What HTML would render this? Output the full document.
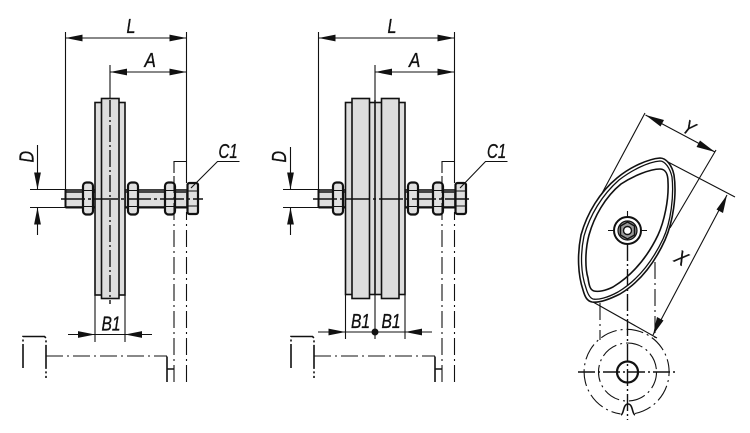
<!DOCTYPE html>
<html><head><meta charset="utf-8"><style>
html,body{margin:0;padding:0;background:#fff}
svg{display:block}
text{font-family:"Liberation Sans",sans-serif;font-style:italic;font-size:20px;fill:#111;stroke:#111;stroke-width:.35}
.t{fill:none;stroke:#111;stroke-width:1.1}
.m{fill:none;stroke:#111;stroke-width:1.6}
.k{fill:none;stroke:#111;stroke-width:2}
.c{fill:none;stroke:#111;stroke-width:1.1;stroke-dasharray:17 4 2 4}
.cm{fill:none;stroke:#111;stroke-width:1.4;stroke-dasharray:17 3 2 3}
.g{fill:#ddd;stroke:#111;stroke-width:1.6}
.n{fill:#e0e0e0;stroke:#111;stroke-width:2.2}
.a{fill:#111;stroke:none}
</style></head><body>
<svg width="750" height="433" viewBox="0 0 750 433" xmlns="http://www.w3.org/2000/svg">
<defs>
<g id="nut"><rect x="0" y="0" width="10" height="32" rx="3.5" class="n"/><path class="t" d="M0 8H10M0 24H10"/></g>
</defs>

<!-- LEFT VIEW -->
<path class="t" d="M65.500 32V190M186.500 32V183M110 65V100M65.500 38H186.500M110 72H186.500"/>
<path class="a" d="M65.500 38l17-3.400v6.800zM186.500 38l-17-3.400v6.800zM110 72l17-3.400v6.800zM186.500 72l-17-3.400v6.800z"/>
<text transform="translate(126.500,33) scale(.8,1)">L</text>
<text transform="translate(144.500,67) scale(.85,1)">A</text>
<rect x="65.500" y="190" width="30" height="17" class="g"/>
<rect x="125" y="190" width="62" height="17" class="g"/>
<path d="M65.500 190H95V193H65.500zM125 190H187V193H125z" fill="#444"/>
<path class="k" d="M65.500 207.500H95M125 207.500H187M65.500 189V208"/>
<rect x="95" y="102.500" width="30" height="192.500" class="g"/>
<rect x="101.500" y="98.500" width="17.500" height="200" class="g"/>
<path class="cm" d="M110 100V304"/>
<use href="#nut" x="83" y="182.500"/><use href="#nut" x="128" y="182.500"/><use href="#nut" x="165" y="182.500"/>
<rect x="187.500" y="183" width="10.500" height="31" rx="2" class="n"/><path class="t" d="M187.500 191H198M187.500 206H198"/>
<path class="m" d="M61 199H203" stroke-dasharray="24 3 3 3"/>
<path class="t" d="M191 188L217.500 161.500H239.500"/>
<text transform="translate(218.500,158) scale(.75,1)">C1</text>
<path class="t" d="M30 189.500H65.500M30 207.500H65.500M37.500 145V189M37.500 208V235"/>
<path class="a" d="M37.500 189.500l-3.400-17h6.800zM37.500 207.500l-3.400 17h6.800z"/>
<text transform="translate(33.500,162.500) rotate(-90) scale(.8,1)">D</text>
<path class="t" d="M95 295V342M125 295V342M68 334.500H152"/>
<path class="a" d="M95 334.500l-17-3.400v6.800zM125 334.500l17-3.400v6.800z"/>
<text transform="translate(101.500,330.500) scale(.78,1)">B1</text>
<path class="c" d="M174 382V172"/><path class="t" d="M174 173V161.500H186.500"/>
<path class="c" d="M186.500 382V212"/>
<path class="m" d="M23 368V336.500H44.500L46 338V378" stroke-dasharray="24 2.500 2 2.500"/>
<path class="c" d="M46 356H167"/><path class="m" d="M167 356.500V382M167 369H174"/>

<!-- MIDDLE VIEW -->
<path class="t" d="M318.500 32V190M454.500 32V183M375 65V100M318.500 38H454.500M375 72H454.500"/>
<path class="a" d="M318.500 38l17-3.400v6.800zM454.500 38l-17-3.400v6.800zM375 72l17-3.400v6.800zM454.500 72l-17-3.400v6.800z"/>
<text transform="translate(387.500,33) scale(.8,1)">L</text>
<text transform="translate(409,67) scale(.85,1)">A</text>
<rect x="318.500" y="190" width="27" height="17" class="g"/>
<rect x="405" y="190" width="50" height="17" class="g"/>
<path d="M318.500 190H345V193H318.500zM405 190H455V193H405z" fill="#444"/>
<path class="k" d="M318.500 207.500H345M405 207.500H455M318.500 189V208"/>
<rect x="345.500" y="102.500" width="59.500" height="192" class="g"/>
<rect x="352" y="98.500" width="17.500" height="200" class="g"/>
<rect x="381.500" y="98.500" width="17.500" height="200" class="g"/>
<path class="m" d="M375 100V295"/>
<use href="#nut" x="333" y="182.500"/><use href="#nut" x="408" y="182.500"/><use href="#nut" x="433" y="182.500"/>
<rect x="455.500" y="183" width="10.500" height="31" rx="2" class="n"/><path class="t" d="M455.500 191H466M455.500 206H466"/>
<path class="m" d="M313 199H472" stroke-dasharray="24 3 3 3"/>
<path class="t" d="M460 188L485.500 161.500H507.500"/>
<text transform="translate(487,158) scale(.75,1)">C1</text>
<path class="t" d="M283 189.500H318.500M283 207.500H318.500M290.500 147V189M290.500 208V235"/>
<path class="a" d="M290.500 189.500l-3.400-17h6.800zM290.500 207.500l-3.400 17h6.800z"/>
<text transform="translate(286,162.500) rotate(-90) scale(.8,1)">D</text>
<path class="t" d="M345.500 295V339M405 295V339M375 295V339M318 332H432"/>
<path class="a" d="M345.500 332l-17-3.400v6.800zM405 332l17-3.400v6.800z"/>
<circle cx="375" cy="332" r="3.500" fill="#111"/>
<text transform="translate(351,328) scale(.78,1)">B1</text>
<text transform="translate(381.500,328) scale(.78,1)">B1</text>
<path class="c" d="M442 382V172"/><path class="t" d="M442 173V161.500H454.500"/>
<path class="c" d="M454.500 382V212"/>
<path class="m" d="M291 368V336.500H312.500L314 338V378" stroke-dasharray="24 2.500 2 2.500"/>
<path class="c" d="M314 356H435"/><path class="m" d="M435 356.500V382M435 369H442"/>

<!-- RIGHT VIEW -->
<path class="t" d="M645 113L600 197M716 150L670 228M645.500 115L715 152M668 162L735 197M593 302L657 338M727 195L653 335"/>
<path class="a" d="M645.500 115L664 120L660.500 126.500zM715 152L696.500 147L700 140.500zM727 195L723 213L716.500 209.500zM653 335L657 317L663.500 320.500z"/>
<text transform="translate(681,131) rotate(30) scale(.8,1)">Y</text>
<text transform="translate(673,261) rotate(30) scale(.85,1)">X</text>
<g stroke="#111">
<path stroke-width="1.600" fill="#fff" d="M660 158C666 158 672 165 674 175C677 195 673 222 665 240C655 262 640 282 620 294C608 300 598 303 592 302C587 301 585 297 583 290C578 275 577 255 581 235C587 213 600 192 617 178C630 167 648 159 660 158Z"/>
<path stroke-width="1.300" fill="none" d="M660 161C665 161 670 168 672 177C674 196 671 222 663 239C653 260 638 280 618 292C607 298 598 300 593 299C590 298 588 295 586 288C581 274 580 255 584 236C590 215 602 195 619 180C632 170 648 162 660 161Z"/>
<path stroke-width="1.600" fill="none" d="M660 169C666 169 668 175 668 182C669 200 664 222 658 235C648 256 634 274 613 287C605 291 598 292 594 291C590 290 589 285 588 278C585 268 585 250 589 235C594 217 605 197 621 184C633 176 650 169 660 169Z"/>
</g>
<path class="t" d="M608 230.500H647M627.500 211V220"/>
<circle cx="627.500" cy="230.500" r="13.500" fill="#fff" stroke="#111" stroke-width="2"/>
<circle cx="627.500" cy="230.500" r="9.500" fill="#888" stroke="#111" stroke-width="1.200"/>
<path d="M627.500 222l7 4v9l-7 4-7-4v-9z" fill="#999" stroke="#111" stroke-width="1.400"/>
<circle cx="627.500" cy="230.500" r="4" fill="#fff" stroke="#111" stroke-width="1.400"/>
<path class="cm" d="M627.500 244V420"/>
<path class="c" d="M600 303V340M655 262V338"/>
<path class="cm" d="M578 372H676"/>
<path class="c" d="M635 413.500A42.500 42.500 0 1 0 620.500 413.900"/>
<circle cx="627.500" cy="372" r="29" class="c"/>
<circle cx="627.500" cy="372" r="10.500" fill="none" stroke="#111" stroke-width="2.200"/>
<path class="m" d="M621 415C624 414 623 404 628 404C633 404 632 414 635 415"/>
</svg>
</body></html>
